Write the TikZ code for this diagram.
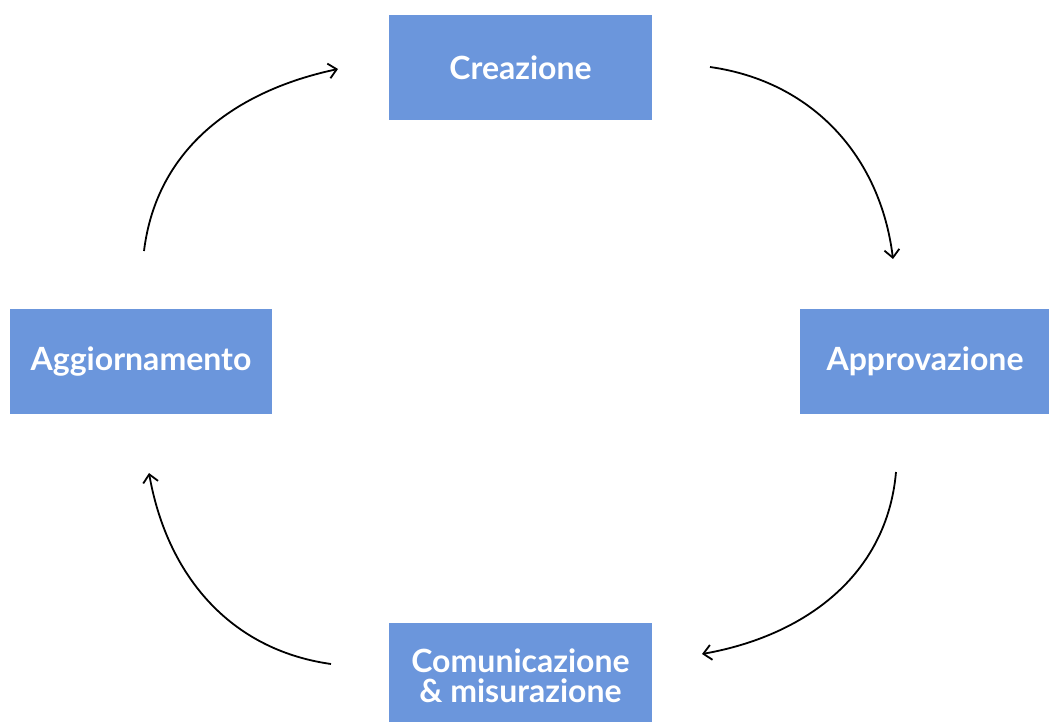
\documentclass[tikz,border=0pt]{standalone}
\usepackage{fontspec}
\setmainfont{Lato}
\usetikzlibrary{arrows.meta}
\definecolor{boxblue}{RGB}{107,150,220}
\tikzset{
  stage/.style={rectangle, fill=boxblue, text=white, font=\bfseries\fontsize{32}{30}\selectfont, align=center, inner sep=0pt},
  flow/.style={line width=1.8pt, -{Straight Barb[length=8pt,width=15pt,line width=1.8pt]}}
}
\begin{document}
\begin{tikzpicture}[x=1pt,y=-1pt]
\useasboundingbox (0,0) rectangle (1049,722);
\clip (0,0) rectangle (1049,722);
\node[stage, minimum width=263pt, minimum height=105pt] (crea) at (520.5,67.5) {Creazione};
\node[stage, minimum width=250pt, minimum height=105pt] (appr) at (925,361.5) {Approvazione};
\node[stage, minimum width=262pt, minimum height=105pt] (aggi) at (141,361.5) {Aggiornamento};
\node[stage, minimum width=263pt, minimum height=106pt] (comu) at (520.5,676) {Comunicazione\\\& misurazione};
\coordinate (a1s) at (144,251);
\coordinate (a1e) at (338,69);
\coordinate (a2s) at (710,67);
\coordinate (a2e) at (893,259);
\coordinate (a3s) at (896,472);
\coordinate (a3e) at (702,654);
\coordinate (a4s) at (331,664);
\coordinate (a4e) at (149,473);
\draw[flow] (a1s) to[out=83,in=192] (a1e);
\draw[flow] (a2s) to[out=-8,in=97] (a2e);
\draw[flow] (a3s) to[out=-95,in=10] (a3e);
\draw[flow] (a4s) to[out=172,in=-80] (a4e);
\end{tikzpicture}
\end{document}
